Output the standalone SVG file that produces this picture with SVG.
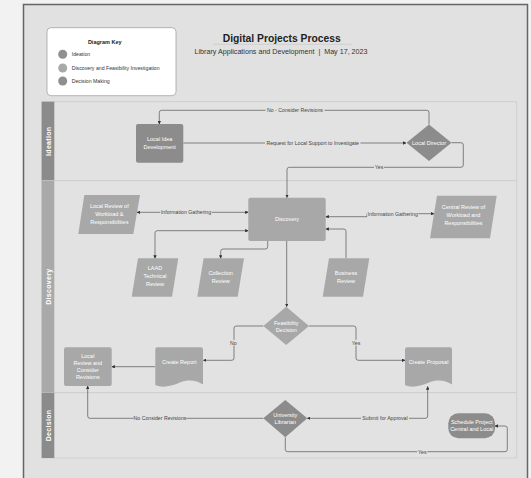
<svg xmlns="http://www.w3.org/2000/svg" width="531" height="478" viewBox="0 0 531 478">
<style>
text{font-family:"Liberation Sans",Arial,sans-serif}
.lane{fill:#e2e2e2;stroke:#cdcdcd;stroke-width:0.8}
.hdrD{fill:#8b8b8b}
.hdrL{fill:#a9a9a9}
.lt{fill:#fff;font-size:7px;font-weight:bold;text-anchor:middle;letter-spacing:0.3px}
.dark{fill:#8c8c8c}
.light{fill:#a8a8a8}
.nt{fill:#fff;font-size:5.5px;text-anchor:middle}
.cn{fill:none;stroke:#555;stroke-width:0.7}
.lbl{fill:#444;font-size:5.2px;text-anchor:middle}
.lbg{fill:#e2e2e2}
.kt{fill:#333;font-size:5.2px}
</style>
<defs>
<marker id="ah" viewBox="0 0 10 10" refX="9" refY="5" markerWidth="3.5" markerHeight="3.5" markerUnits="userSpaceOnUse" orient="auto-start-reverse">
<path d="M0,0 L10,5 L0,10 z" fill="#333"/>
</marker>
</defs>
<rect x="0" y="0" width="531" height="478" fill="#f2f2f2"/>
<rect x="23.5" y="4.5" width="504" height="480" fill="#e1e1e1" stroke="#666" stroke-width="1.5"/>

<g id="key">
<rect x="47" y="27.7" width="129" height="68" rx="4" fill="#fff" stroke="#999" stroke-width="0.7"/>
<text x="104.7" y="43.5" font-size="5.5" font-weight="bold" text-anchor="middle" fill="#222">Diagram Key</text>
<circle cx="62.7" cy="54.3" r="4.5" fill="#8f8f8f"/>
<text class="kt" x="71.7" y="56.2">Ideation</text>
<circle cx="62.7" cy="68" r="4.5" fill="#a9a9a9"/>
<text class="kt" x="71.7" y="69.9">Discovery and Feasibility Investigation</text>
<circle cx="62.7" cy="81" r="4.5" fill="#8f8f8f"/>
<text class="kt" x="71.7" y="82.9">Decision Making</text>
</g>

<g id="title">
<text x="281.7" y="42" font-size="10.5" font-weight="bold" text-anchor="middle" fill="#222" textLength="118" lengthAdjust="spacingAndGlyphs">Digital Projects Process</text>
<line x1="213" y1="44.3" x2="351.7" y2="44.3" stroke="#c4c4c4" stroke-width="0.6"/>
<text x="281" y="54" font-size="6.6" text-anchor="middle" fill="#333" textLength="173" lengthAdjust="spacingAndGlyphs">Library Applications and Development &#160;|&#160; May 17, 2023</text>
</g>

<g id="lane-ideation">
<rect class="lane" x="41.7" y="101.7" width="475" height="79"/>
<rect class="hdrD" x="41.7" y="101.7" width="12.6" height="79"/>
<text class="lt" transform="translate(50.5,141.3) rotate(-90)">Ideation</text>
</g>
<g id="lane-discovery">
<rect class="lane" x="41.7" y="180.7" width="475" height="212"/>
<rect class="hdrL" x="41.7" y="180.7" width="12.6" height="212"/>
<text class="lt" transform="translate(50.5,286.7) rotate(-90)">Discovery</text>
</g>
<g id="lane-decision">
<rect class="lane" x="41.7" y="392.7" width="475" height="65.3"/>
<rect class="hdrD" x="41.7" y="392.7" width="12.6" height="65.3"/>
<text class="lt" transform="translate(50.5,425.5) rotate(-90)">Decision</text>
</g>

<g id="connectors">
<path class="cn" d="M183.3,143 H406" marker-end="url(#ah)"/>
<path class="cn" d="M429,124.4 V112.5 Q429,110.3 426.8,110.3 H161.5 Q159.3,110.3 159.3,112.5 V124" marker-end="url(#ah)"/>
<path class="cn" d="M451.5,142.7 H461 Q463.3,142.7 463.3,145 V165 Q463.3,167.3 461,167.3 H289.3 Q287,167.3 287,169.6 V197.7" marker-end="url(#ah)"/>
<path class="cn" d="M137,212.3 H248.3" marker-start="url(#ah)" marker-end="url(#ah)"/>
<path class="cn" d="M325.7,216.7 H367 V213.7 H434" marker-start="url(#ah)" marker-end="url(#ah)"/>
<path class="cn" d="M248.3,230.7 H157.3 Q155,230.7 155,233 V258.3" marker-start="url(#ah)" marker-end="url(#ah)"/>
<path class="cn" d="M267.7,241 V246.7 Q267.7,249 265.4,249 H223 Q220.7,249 220.7,251.3 V258.3" marker-end="url(#ah)"/>
<path class="cn" d="M346,258.3 V231.3 Q346,229 343.7,229 H325.7" marker-end="url(#ah)"/>
<path class="cn" d="M286.7,241 V306.7" marker-end="url(#ah)"/>
<path class="cn" d="M263.3,326 H236.3 Q234,326 234,328.3 V358 Q234,360.3 231.7,360.3 H203.3" marker-end="url(#ah)"/>
<path class="cn" d="M309,326 H353.7 Q356,326 356,328.3 V358 Q356,360.3 358.3,360.3 H405" marker-end="url(#ah)"/>
<path class="cn" d="M155.3,366.7 H111.7" marker-end="url(#ah)"/>
<path class="cn" d="M427.7,386.5 V416 Q427.7,418.3 425.4,418.3 H307.3" marker-start="url(#ah)" marker-end="url(#ah)"/>
<path class="cn" d="M263.3,418.3 H90 Q87.7,418.3 87.7,416 V386" marker-end="url(#ah)"/>
<path class="cn" d="M285.3,437.3 V449.4 Q285.3,451.7 287.6,451.7 H505 Q507.3,451.7 507.3,449.4 V428.3 Q507.3,426 505,426 H495" marker-end="url(#ah)"/>

<rect class="lbg" x="265.5" y="107.5" width="59" height="5.6"/>
<text class="lbl" x="295" y="112.1">No - Consider Revisions</text>
<rect class="lbg" x="265" y="140.2" width="95.4" height="5.6"/>
<text class="lbl" x="312.7" y="144.8">Request for Local Support to Investigate</text>
<rect class="lbg" x="374" y="164.5" width="10" height="5.6"/>
<text class="lbl" x="379" y="169.1">Yes</text>
<rect class="lbg" x="160.3" y="209.5" width="51.4" height="5.6"/>
<text class="lbl" x="186" y="214.1">Information Gathering</text>
<rect class="lbg" x="367" y="210.9" width="51.4" height="5.6"/>
<text class="lbl" x="392.7" y="215.5">Information Gathering</text>
<rect class="lbg" x="229" y="339.9" width="8.6" height="5.6"/>
<text class="lbl" x="233.3" y="344.5">No</text>
<rect class="lbg" x="351" y="339.9" width="10" height="5.6"/>
<text class="lbl" x="356" y="344.5">Yes</text>
<rect class="lbg" x="133.5" y="415.5" width="53" height="5.6"/>
<text class="lbl" x="160" y="420.1">No Consider Revisions</text>
<rect class="lbg" x="361" y="415.5" width="48" height="5.6"/>
<text class="lbl" x="385" y="420.1">Submit for Approval</text>
<rect class="lbg" x="417.3" y="448.9" width="10" height="5.6"/>
<text class="lbl" x="422.3" y="453.5">Yes</text>
</g>

<g id="local-idea">
<rect class="dark" x="136" y="124" width="47.3" height="38.7" rx="2"/>
<text class="nt" x="159.7" y="141.2">Local Idea</text>
<text class="nt" x="159.7" y="149.2">Development</text>
</g>
<g id="local-director">
<polygon class="dark" points="429,124.4 451.5,142.7 429,161 406.5,142.7"/>
<text class="nt" x="429" y="144.6">Local Director</text>
</g>
<g id="discovery">
<rect class="light" x="248.3" y="197.7" width="77.4" height="43.3" rx="2"/>
<text class="nt" x="287" y="221">Discovery</text>
</g>
<g id="local-review">
<polygon class="light" points="84.3,195 140,195 133.3,234 78.3,234"/>
<text class="nt" x="109.3" y="207.6">Local Review of</text>
<text class="nt" x="109.3" y="215.6">Workload &amp;</text>
<text class="nt" x="109.3" y="223.6">Responsibilities</text>
</g>
<g id="central-review">
<polygon class="light" points="437,195.7 496.7,195.7 490,238.3 430,238.3"/>
<text class="nt" x="463.5" y="209.4">Central Review of</text>
<text class="nt" x="463.5" y="217.4">Workload and</text>
<text class="nt" x="463.5" y="225.4">Responsibilities</text>
</g>
<g id="laad">
<polygon class="light" points="138,258.3 178.3,258.3 172,296.7 131.7,296.7"/>
<text class="nt" x="155" y="270.2">LAAD</text>
<text class="nt" x="155" y="278.2">Technical</text>
<text class="nt" x="155" y="286.2">Review</text>
</g>
<g id="collection-review">
<polygon class="light" points="203.6,258.3 244,258.3 237.7,296.7 197.3,296.7"/>
<text class="nt" x="220.7" y="275">Collection</text>
<text class="nt" x="220.7" y="283">Review</text>
</g>
<g id="business-review">
<polygon class="light" points="329,258.3 369.3,258.3 363,296.7 322.7,296.7"/>
<text class="nt" x="346" y="275">Business</text>
<text class="nt" x="346" y="283">Review</text>
</g>
<g id="feasibility">
<polygon class="light" points="286.2,306.7 309,326 286.2,345 263.3,326"/>
<text class="nt" x="286.2" y="324.5">Feasibility</text>
<text class="nt" x="286.2" y="331.5">Decision</text>
</g>
<g id="create-report">
<path class="light" d="M157.3,347.3 H201 Q203,347.3 203,349.3 V384.5 C196,380 188,379.5 180,382.5 C171,386 163,388.5 155.3,385 V349.3 Q155.3,347.3 157.3,347.3 Z"/>
<text class="nt" x="179.3" y="364.3">Create Report</text>
</g>
<g id="create-proposal">
<path class="light" d="M407,347.3 H450 Q452,347.3 452,349.3 V384.5 C445,380 437,379.5 429,382.5 C420,386 412,388.5 405,385 V349.3 Q405,347.3 407,347.3 Z"/>
<text class="nt" x="428.5" y="364.3">Create Proposal</text>
</g>
<g id="local-review-revisions">
<rect class="light" x="64" y="347.3" width="47.7" height="38.7" rx="2"/>
<text class="nt" x="87.8" y="357.5">Local</text>
<text class="nt" x="87.8" y="364.5">Review and</text>
<text class="nt" x="87.8" y="371.5">Consider</text>
<text class="nt" x="87.8" y="378.5">Revisions</text>
</g>
<g id="university-librarian">
<polygon class="dark" points="285.3,400 307.3,418.3 285.3,437.3 263.3,418.3"/>
<text class="nt" x="285.3" y="416.5">University</text>
<text class="nt" x="285.3" y="423.5">Librarian</text>
</g>
<g id="schedule-project">
<rect class="dark" x="448.3" y="413.3" width="46.7" height="25" rx="10"/>
<text class="nt" x="471.7" y="423.5">Schedule Project</text>
<text class="nt" x="471.7" y="431">Central and Local</text>
</g>
</svg>
